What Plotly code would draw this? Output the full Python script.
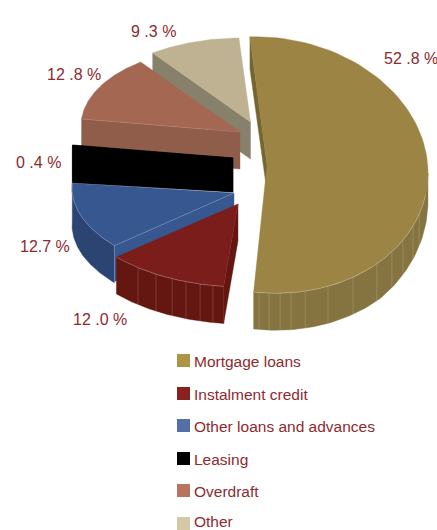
import numpy as np
import plotly.graph_objects as go

# Loan portfolio shares, in percent
categories = ["Mortgage loans", "Instalment credit", "Other loans and advances",
              "Leasing", "Overdraft", "Other"]
shares = [52.8, 12.0, 12.7, 0.4, 12.8, 9.3]
share_labels = ["52 .8 %", "12 .0 %", "12.7 %", "0 .4 %", "12 .8 %", "9 .3 %"]

# Colours per slice
top_colors = ["#9B8444", "#7B1D1A", "#36578F", "#000000", "#A46751", "#BEB292"]
wall_colors = ["#857440", "#641710", "#2B4472", "#000000", "#905D4B", "#87806B"]
cut_colors = ["#75662F", "#641710", "#36578F", "#000000", "#905D4B", "#87806B"]
swatch_colors = ["#AD9449", "#8B211F", "#5570A9", "#000000", "#B87460", "#D5C8A6"]
TEXT_COLOR = "#8E2A2E"

# Projected geometry of each exploded slice, in page pixels
apex_x = [267, 238, 234, 233, 240, 250.5]
apex_y = [165, 204, 193, 158, 132, 122]
rim_cx = [266, 236, 234, 234, 243, 255]
rim_cy = [165, 204, 192, 158, 132, 122]
rim_ry = [128, 83, 84, 85, 85.4, 83.8]
rim_tilt = [8, 4, 4, 6, 6, 6.5]
RIM_RX = 162
DEPTH = 37
START_DEG = -5.7

# Facet lines on the outer walls, in degrees round the pie
gold_ribs = [182.5, 178.9, 175, 171.1, 166, 157.5, 147.5, 136.8, 129, 122.3, 114.8, 109]
red_ribs = [217.2, 209.6, 203.2, 198, 192.8, 188.2]

# Legend and label placement
swatch_y = [360.5, 393.5, 425.5, 458.5, 490.5, 523.5]
legend_text_y = [361, 394, 426, 459, 491, 521.5]
label_x = [410.5, 99.5, 45, 38, 73.5, 153.5]
label_y = [58, 319, 246, 162, 74, 31]

edges = START_DEG + np.cumsum([0] + shares) * 3.6


def rim(i, a0, a1, n=80):
    a = np.radians(np.linspace(a0, a1, n))
    x = rim_cx[i] + RIM_RX * np.sin(a)
    y = rim_cy[i] - rim_ry[i] * np.cos(a) + rim_tilt[i] * np.sin(a)
    return x, y


def depth_at(i, a):
    # The large slice's wall narrows towards its right-hand silhouette
    a = np.asarray(a, dtype=float)
    if i == 0:
        return DEPTH - 9 * np.clip((135 - a) / 45, 0, 1)
    return DEPTH + 0 * a


fig = go.Figure()


def poly(x, y, color):
    fig.add_trace(go.Scatter(x=list(x) + [x[0]], y=list(y) + [y[0]], mode="lines",
                             fill="toself", fillcolor=color,
                             line=dict(color=color, width=0.4),
                             hoverinfo="skip", showlegend=False))


def stroke(x, y, color="rgba(255,255,255,0.3)", width=0.7):
    fig.add_trace(go.Scatter(x=list(x), y=list(y), mode="lines",
                             line=dict(color=color, width=width),
                             hoverinfo="skip", showlegend=False))


def top(i):
    x, y = rim(i, edges[i], edges[i + 1])
    poly([apex_x[i], *x], [apex_y[i], *y], top_colors[i])


def wall(i, a0, a1):
    x, y = rim(i, a0, a1)
    d = depth_at(i, np.linspace(a0, a1, len(x)))
    poly([*x, *x[::-1]], [*y, *((y + d)[::-1])], wall_colors[i])


def cut(i, angle, depth_rim=DEPTH, depth_apex=DEPTH):
    x, y = rim(i, angle, angle, 1)
    poly([x[0], apex_x[i], apex_x[i], x[0]],
         [y[0], apex_y[i], apex_y[i] + depth_apex, y[0] + depth_rim], cut_colors[i])


def ribs(i, angles):
    for a in angles:
        x, y = rim(i, a, a, 1)
        stroke([x[0], x[0]], [y[0], y[0] + float(depth_at(i, a))],
               "rgba(255,255,255,0.2)", 0.8)


# Paint from the back of the pie to the front
cut(5, edges[5])
top(5)

cut(4, edges[4])
top(4)
x4, y4 = rim(4, edges[4], edges[4], 1)
stroke([x4[0], apex_x[4]], [y4[0], apex_y[4]], "rgba(255,255,255,0.15)", 0.7)

cut(3, edges[3], 36, 34)
cut(3, edges[4], 36, 34)
top(3)

wall(2, edges[2], edges[3])
cut(2, edges[2], 36, 17)
top(2)
x2, y2 = rim(2, edges[2], edges[3])
stroke(x2, y2, "rgba(255,255,255,0.3)", 0.7)
stroke([x2[0], apex_x[2]], [y2[0], apex_y[2]], "rgba(255,255,255,0.3)", 0.7)
stroke([x2[0], x2[0]], [y2[0], y2[0] + DEPTH], "rgba(255,255,255,0.3)", 0.7)

wall(1, edges[1], edges[2])
cut(1, edges[1])
top(1)
x1, y1 = rim(1, edges[1], edges[2])
stroke(x1, y1, "rgba(255,255,255,0.35)", 0.7)
ribs(1, red_ribs)

cut(0, edges[0], 32, 27)
wall(0, 90, edges[1])
top(0)
x0, y0 = rim(0, 100, edges[1])
stroke(x0, y0, "rgba(255,255,255,0.35)", 0.7)
ribs(0, gold_ribs)

# Legend swatches drawn as square markers
fig.add_trace(go.Scatter(x=[183.5] * len(categories), y=swatch_y, mode="markers",
                         marker=dict(symbol="square", size=13, color=swatch_colors,
                                     line=dict(width=0)),
                         hoverinfo="skip", showlegend=False))

font = dict(family="Liberation Sans, Arial, sans-serif", color=TEXT_COLOR)
for name, y in zip(categories, legend_text_y):
    fig.add_annotation(x=194, y=y, text=name, showarrow=False, xanchor="left",
                       yanchor="middle", xshift=-2, font=dict(size=15.5, **font))
for text, x, y in zip(share_labels, label_x, label_y):
    fig.add_annotation(x=x, y=y, text=text, showarrow=False, xanchor="center",
                       yanchor="middle", font=dict(size=16, **font))

fig.update_layout(width=437, height=530, margin=dict(l=0, r=0, t=0, b=0),
                  paper_bgcolor="white", plot_bgcolor="white", showlegend=False)
fig.update_xaxes(range=[0, 437], visible=False, fixedrange=True)
fig.update_yaxes(range=[530, 0], visible=False, fixedrange=True)

fig.write_html("out.html", config={"displayModeBar": False})
